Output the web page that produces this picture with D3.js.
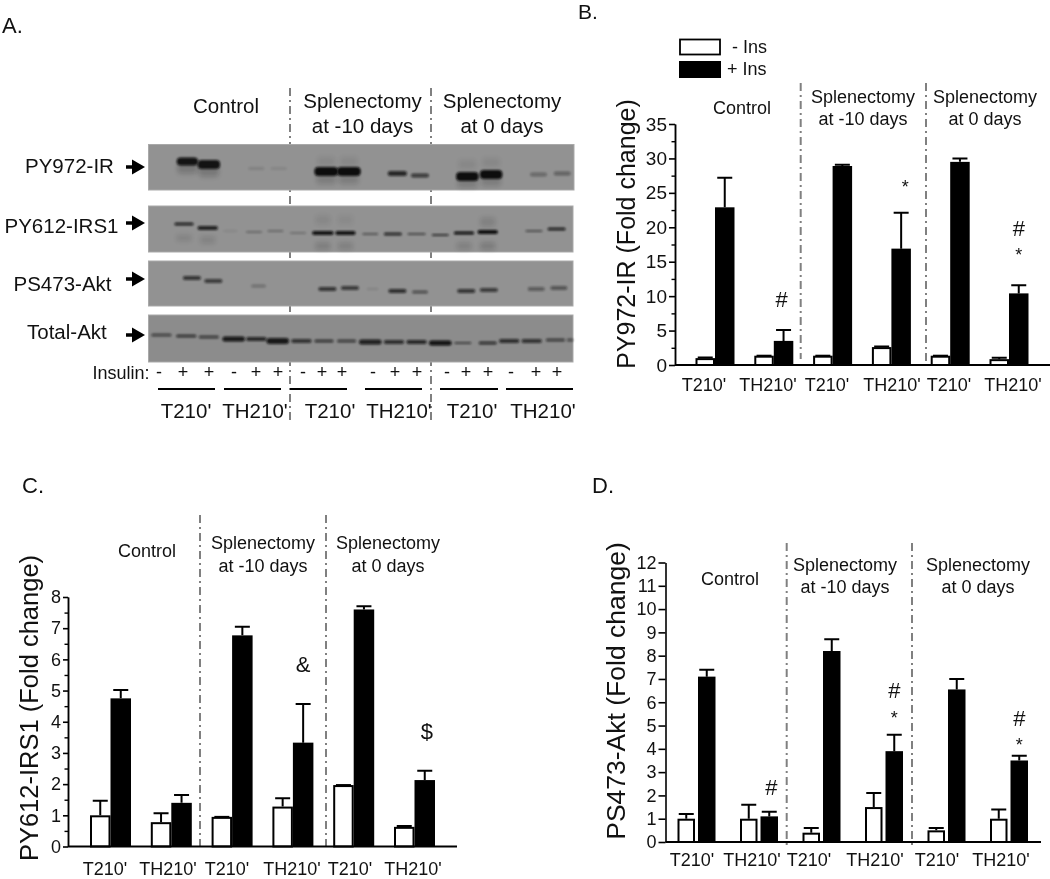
<!DOCTYPE html>
<html><head><meta charset="utf-8">
<script src="https://cdn.jsdelivr.net/npm/d3@7"></script>
<style>
html,body{margin:0;padding:0;background:#fff}
svg{display:block;filter:blur(.35px)}
text{font-family:"Liberation Sans",Arial,sans-serif;fill:#111}
</style></head><body><div id="chart"></div>
<script>
// ---------- data ----------
const categories = ["T210'", "TH210'", "T210'", "TH210'", "T210'", "TH210'"];
const seriesNames = ["- Ins", "+ Ins"];

const irWhite = [1.0, 1.35, 1.35, 2.6, 1.35, 0.85];
const irWhiteTop = [1.1, 1.35, 1.35, 2.7, 1.35, 1.05];
const irBlack = [22.9, 3.5, 28.9, 16.9, 29.5, 10.4];
const irBlackTop = [27.2, 5.1, 29.1, 22.1, 30.0, 11.6];

const irsWhite = [1.0, 0.78, 0.95, 1.28, 1.97, 0.63];
const irsWhiteTop = [1.47, 1.07, 0.95, 1.55, 1.97, 0.66];
const irsBlack = [4.75, 1.4, 6.77, 3.33, 7.6, 2.13];
const irsBlackTop = [5.02, 1.65, 7.05, 4.57, 7.7, 2.43];

const aktWhite = [1.0, 1.0, 0.4, 1.5, 0.5, 1.0];
const aktWhiteTop = [1.2, 1.6, 0.6, 2.1, 0.6, 1.4];
const aktBlack = [7.1, 1.1, 8.2, 3.9, 6.55, 3.5];
const aktBlackTop = [7.4, 1.3, 8.7, 4.6, 7.0, 3.7];

// [category index, symbol, height on the value axis]
const irMarks = [[1, "#", 8.4], [3, "*", 25], [5, "#", 18.7], [5, "*", 15.1]];
const irsMarks = [[3, "&", 5.6], [5, "$", 3.45]];
const aktMarks = [[1, "#", 2.0], [3, "#", 6.18], [3, "*", 5.06], [5, "#", 4.97], [5, "*", 3.9]];

// Western blot bands: [lane position, migration, breadth, thickness, density]
const blotPY972 = [[34,24,18,10,.2],[53,27,18,10,.2],[157,35,18,9,.16],[177,35,18,9,.16],[282,39,18,9,.16],[303,37,18,9,.16],[157,17,16,9,.08],[177,17,16,9,.08],[282,20,16,9,.08],[303,18,16,9,.08],
  [34,17,19,8,.95],[53,20,20,9,.95],[95,24,14,3,.12],[115,24,14,3,.09],[157,27,21,9,1],[177,27,21,9,1],[220,29,17,5,.8],[240,31,16,4,.65],[282,32,20,9,1],[303,30,20,9,1],[345,30,15,4,.3],[366,29,15,4,.35]];
const blotPY612 = [[31,18,17,3,.8],[52,22,18,4,.85],[72,25,12,1.5,.12],[93,26,14,2,.3],[112,25,14,2,.3],[132,27,14,2,.25],[154,27,19,4,.95],[174,27,18,4,.95],[196,28,14,2,.45],[216,28,16,3,.75],[237,28,16,2,.55],[258,29,15,2,.7],[279,27,18,3,.95],[300,26,18,4,1],[341,25,15,2,.5],[361,23,16,3,.8],[31,32,14,6,.12],[52,34,14,7,.12],[154,40,14,7,.16],[174,40,14,7,.14],[279,40,14,7,.14],[300,40,14,7,.18],[154,14,14,9,.08],[174,14,14,9,.06],[300,16,14,9,.13]];
const blotPS473 = [[38,17,16,4,.7],[57,20,16,4,.65],[97,25,13,3,.25],[158,28,16,4,.7],[178,27,16,4,.65],[198,28,10,2,.12],[220,30,16,4,.75],[240,31,14,3,.5],[281,30,16,4,.7],[301,29,16,4,.65],[343,28,15,4,.4],[363,27,15,4,.45]];
const blotTotal = [[11,20,18,3,.55],[33,21,18,3,.65],[53,22,18,3,.6],[75,24,20,5,.9],[95,24,18,4,.8],[114,26,20,6,.9],[135,26,18,4,.7],[155,26,17,3,.65],[175,26,17,3,.6],[196,27,20,5,.85],[217,27,18,4,.75],[237,27,18,4,.8],[258,28,20,5,.95],[278,28,15,2,.6],[300,28,16,3,.7],[319,26,18,4,.75],[339,26,18,4,.7],[360,25,17,3,.6],[373,25,6,3,.5]];

const laneMarks = ["-", "+", "+", "-", "+", "+", "-", "+", "+", "-", "+", "+", "-", "+", "+", "-", "+", "+"];
const blotNames = ["PY972-IR", "PY612-IRS1", "PS473-Akt", "Total-Akt"];

// ---------- page ----------
const svg = d3.select("#chart").append("svg").attr("width", 1050).attr("height", 879);
const defs = svg.append("defs");
defs.append("filter").attr("id", "soft").attr("x", "-30%").attr("y", "-150%").attr("width", "160%").attr("height", "400%")
  .append("feGaussianBlur").attr("stdDeviation", "1.2 0.9");
defs.append("filter").attr("id", "smear").attr("x", "-40%").attr("y", "-150%").attr("width", "180%").attr("height", "400%")
  .append("feGaussianBlur").attr("stdDeviation", "2 2.6");

const DASH = "8 4 2 4";
const SEP = "#808080";

function txt(g, x, y, s, size, anchor) {
  return g.append("text").attr("x", x).attr("y", y).attr("font-size", size)
    .attr("text-anchor", anchor || "middle").text(s);
}

// ---------- panel A ----------
function drawA() {
  const g = svg.append("g");
  const K = 1.129;
  [290, 431].forEach(x => g.append("line").attr("x1", x).attr("x2", x).attr("y1", 88).attr("y2", 422)
    .attr("stroke", SEP).attr("stroke-width", 2).attr("stroke-dasharray", DASH));

  const blots = [
    { bands: blotPY972, top: 144.5, h: 45.5, right: 574, arrow: 167, label: [25, 173] },
    { bands: blotPY612, top: 206, h: 46, right: 573, arrow: 223, label: [4.5, 233] },
    { bands: blotPS473, top: 261, h: 45, right: 573, arrow: 279, label: [13.5, 291] },
    { bands: blotTotal, top: 315, h: 47, right: 573, arrow: 335, label: [27, 339] }
  ];
  blots.forEach((b, i) => {
    const lane = d3.scaleLinear().domain([0, 375]).range([149, 149 + 375 * K]);
    const mig = d3.scaleLinear().domain([0, 46]).range([b.top, b.top + 46]);
    g.append("rect").attr("x", 148.5).attr("y", b.top).attr("width", b.right - 148.5).attr("height", b.h)
      .attr("fill", i === 3 ? "#8c8c8c" : "#929292").attr("stroke", "#a9a9a9").attr("stroke-width", 1);
    const isSmear = d => d[4] < 0.22 && d[3] >= 5;
    g.selectAll(null).data(b.bands).join("rect")
      .attr("filter", d => isSmear(d) ? "url(#smear)" : "url(#soft)")
      .attr("x", d => lane(d[0]) - d[2] * K / 2)
      .attr("y", d => mig(d[1]) - d[3] / 2)
      .attr("width", d => d[2] * K).attr("height", d => d[3])
      .attr("rx", d => Math.min(d[3] / 2, 4))
      .attr("fill", "#0a0a0a").attr("opacity", d => d[4]);
    txt(g, b.label[0], b.label[1], blotNames[i], 20.5, "start");
    const a = b.arrow;
    g.append("path").attr("d", `M126,${a}H136`).attr("stroke", "#000").attr("stroke-width", 3.5);
    g.append("path").attr("d", `M132,${a - 7.5}L145,${a}L132,${a + 7.5}Z`).attr("fill", "#000");
  });

  txt(g, 226, 113, "Control", 20.5);
  txt(g, 362.5, 108, "Splenectomy", 20.5);
  txt(g, 362.5, 133, "at -10 days", 20.5);
  txt(g, 502, 108, "Splenectomy", 20.5);
  txt(g, 502, 133, "at 0 days", 20.5);

  txt(g, 92.5, 379, "Insulin:", 18, "start");
  const markX = [159, 183, 209, 234, 256, 278, 303, 322, 342, 373, 395, 417, 447, 466, 488, 511, 536, 557];
  g.selectAll(".lm").data(laneMarks).join("text").attr("class", "lm")
    .attr("x", (d, i) => markX[i]).attr("y", 378).attr("font-size", 18).attr("text-anchor", "middle").text(d => d);
  const seg = [[158, 215], [224, 281], [290, 347], [365, 422], [440, 498], [506, 573]];
  const labX = [186, 255, 330, 399, 472, 543];
  g.selectAll(".sg").data(seg).join("line").attr("class", "sg")
    .attr("x1", d => d[0]).attr("x2", d => d[1]).attr("y1", 389).attr("y2", 389)
    .attr("stroke", "#000").attr("stroke-width", 2);
  g.selectAll(".cl").data(categories).join("text").attr("class", "cl")
    .attr("x", (d, i) => labX[i]).attr("y", 418).attr("font-size", 20.5).attr("text-anchor", "middle").text(d => d);
}

// ---------- bar panels ----------
function drawBars(c) {
  const g = svg.append("g");
  const y = d3.scaleLinear().domain([0, c.max]).range([c.y0, c.yTop]);
  const x = d3.scaleBand().domain(d3.range(categories.length)).range([c.x0, c.x0 + c.step * 6]);
  const sx = s => s * (c.bw + c.gap);

  c.seps.forEach(([sxp, a, b]) => g.append("line").attr("x1", sxp).attr("x2", sxp).attr("y1", a).attr("y2", b)
    .attr("stroke", SEP).attr("stroke-width", 2).attr("stroke-dasharray", DASH));

  const rows = [
    { s: 0, vals: c.white, tops: c.whiteTop, fill: "#fff" },
    { s: 1, vals: c.black, tops: c.blackTop, fill: "#000" }
  ];
  rows.forEach(r => {
    const cx = i => x(i) + sx(r.s) + c.bw / 2;
    g.selectAll(null).data(r.tops).join("path")
      .attr("d", (d, i) => `M${cx(i)},${y(r.vals[i])}V${y(d)}M${cx(i) - 7.5},${y(d)}H${cx(i) + 7.5}`)
      .attr("stroke", "#000").attr("stroke-width", 2).attr("fill", "none");
    g.selectAll(null).data(r.vals).join("rect")
      .attr("x", (d, i) => x(i) + sx(r.s) + (r.s ? 0 : 1))
      .attr("y", d => y(d) + (r.s ? 0 : 1))
      .attr("width", c.bw - (r.s ? 0 : 2))
      .attr("height", d => c.y0 - y(d) - (r.s ? 0 : 1))
      .attr("fill", r.fill)
      .attr("stroke", r.s ? "none" : "#000").attr("stroke-width", 2);
  });

  // axes
  const ax = d3.axisLeft(y).tickValues(d3.range(0, c.max + 1e-6, c.major)).tickFormat(d3.format("d"))
    .tickSize(c.tick).tickSizeOuter(0).tickPadding(c.pad);
  const ag = g.append("g").attr("transform", `translate(${c.axisX},0)`).call(ax);
  ag.selectAll("path,line").attr("stroke", "#000").attr("stroke-width", 1.6);
  ag.selectAll("text").attr("font-size", c.tickFont).attr("font-family", '"Liberation Sans",Arial,sans-serif').attr("fill", "#111");
  if (c.minor) {
    const mg = g.append("g").attr("transform", `translate(${c.axisX},0)`)
      .call(d3.axisLeft(y).tickValues(d3.range(c.minor, c.max, c.major)).tickFormat("").tickSize(3.5).tickSizeOuter(0));
    mg.selectAll("path,line").attr("stroke", "#000").attr("stroke-width", 1.4);
  }
  g.append("line").attr("x1", c.axisX).attr("x2", c.xEnd).attr("y1", c.y0).attr("y2", c.y0)
    .attr("stroke", "#000").attr("stroke-width", 2);

  g.selectAll(".xl").data(categories).join("text").attr("class", "xl")
    .attr("x", (d, i) => c.labelX[i]).attr("y", c.labelY).attr("font-size", 18)
    .attr("text-anchor", "middle").text(d => d);

  g.append("text").attr("transform", `translate(${c.titleX},${c.titleY}) rotate(-90)`)
    .attr("font-size", c.titleSize).attr("text-anchor", "middle").text(c.title);

  txt(g, c.ctl[0], c.ctl[1], "Control", 18);
  txt(g, c.sp1, c.spY[0], "Splenectomy", 18);
  txt(g, c.sp1, c.spY[1], "at -10 days", 18);
  txt(g, c.sp2, c.spY[0], "Splenectomy", 18);
  txt(g, c.sp2, c.spY[1], "at 0 days", 18);

  g.selectAll(".mk").data(c.marks).join("text").attr("class", "mk")
    .attr("x", d => x(d[0]) + c.bw + c.gap + c.bw / 2 + (c.markDx[d[0]] || 0))
    .attr("y", d => y(d[2]))
    .attr("font-size", d => d[1] === "*" ? 18 : 22)
    .attr("text-anchor", "middle").text(d => d[1]);
}

drawA();

drawBars({
  max: 35, y0: 365, yTop: 124, major: 5, minor: 2.5, x0: 695.5, step: 58.8, bw: 19.5, gap: 0,
  axisX: 675, xEnd: 1050, tick: 6, pad: 2, tickFont: 19,
  white: irWhite, whiteTop: irWhiteTop, black: irBlack, blackTop: irBlackTop, marks: irMarks, markDx: { 1: -2, 3: 4 },
  seps: [[800.7, 83, 359], [926, 83, 365]],
  labelX: [704, 768, 827, 892, 949, 1013], labelY: 391,
  title: "PY972-IR (Fold change)", titleX: 635, titleY: 234, titleSize: 25,
  ctl: [742, 114], sp1: 863, sp2: 985, spY: [103, 125]
});
drawBars({
  max: 8, y0: 846.5, yTop: 597, major: 1, minor: 0.5, x0: 90, step: 60.8, bw: 20.5, gap: 0,
  axisX: 68, xEnd: 457, tick: 5, pad: 2, tickFont: 18,
  white: irsWhite, whiteTop: irsWhiteTop, black: irsBlack, blackTop: irsBlackTop, marks: irsMarks, markDx: { 5: 2 },
  seps: [[200, 515, 848], [326, 515, 848]],
  labelX: [105, 168, 227, 292, 350, 413], labelY: 875,
  title: "PY612-IRS1 (Fold change)", titleX: 38, titleY: 708, titleSize: 25.5,
  ctl: [147, 557], sp1: 263, sp2: 388, spY: [549, 572]
});
drawBars({
  max: 12, y0: 842, yTop: 562.5, major: 1, minor: 0, x0: 677.5, step: 62.5, bw: 17.5, gap: 3,
  axisX: 665.5, xEnd: 1041, tick: 7, pad: 2, tickFont: 18,
  white: aktWhite, whiteTop: aktWhiteTop, black: aktBlack, blackTop: aktBlackTop, marks: aktMarks, markDx: { 1: 2 },
  seps: [[786.7, 543, 845], [912, 543, 845]],
  labelX: [692, 752, 809, 875, 937, 1001], labelY: 866,
  title: "PS473-Akt (Fold change)", titleX: 625, titleY: 691, titleSize: 26.5,
  ctl: [730, 585], sp1: 845, sp2: 978, spY: [571, 593]
});

// legend
const lg = svg.append("g");
lg.append("rect").attr("x", 680).attr("y", 39.5).attr("width", 40).attr("height", 15).attr("fill", "#fff").attr("stroke", "#000").attr("stroke-width", 1.8);
lg.append("rect").attr("x", 679).attr("y", 61).attr("width", 42).attr("height", 17).attr("fill", "#000");
txt(lg, 732, 53, seriesNames[0], 18, "start");
txt(lg, 727, 75, seriesNames[1], 18, "start");

// panel letters
txt(svg, 2, 33, "A.", 22, "start");
txt(svg, 578, 19, "B.", 21, "start");
txt(svg, 22, 493, "C.", 22, "start");
txt(svg, 592, 493, "D.", 22, "start");
</script></body></html>
